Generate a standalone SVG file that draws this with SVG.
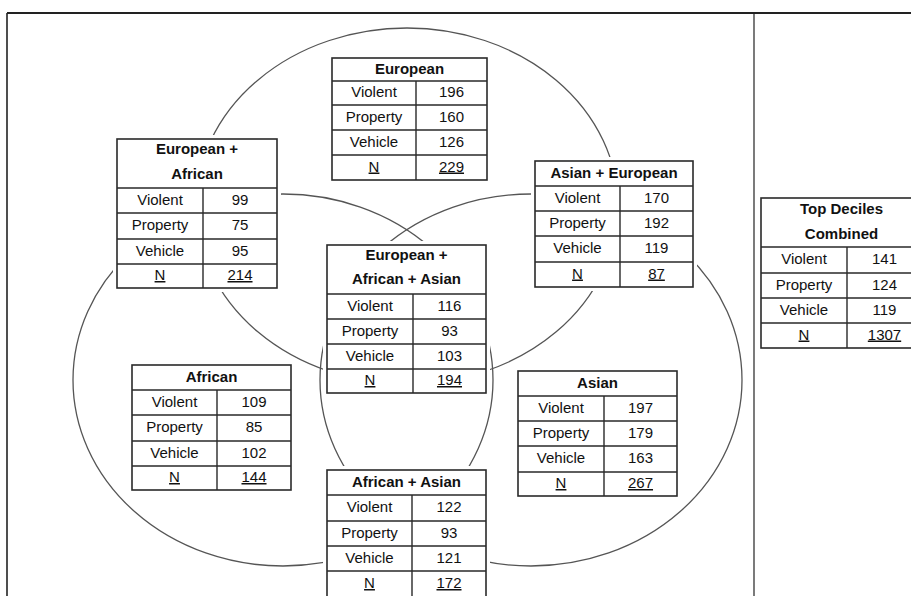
<svg xmlns="http://www.w3.org/2000/svg" width="911" height="596" viewBox="0 0 911 596">
<style>
.bg{fill:#fff}
.tb{fill:none;stroke:#2a2a2a;stroke-width:1.6}
.ln{stroke:#2a2a2a;stroke-width:1.4}
.t{font-family:"Liberation Sans",Arial,sans-serif;font-size:15px;fill:#111;text-anchor:middle}
.h{font-weight:bold}
.u{text-decoration:underline}
.c{fill:none;stroke:#555;stroke-width:1.3}
.fr{stroke:#222;fill:none}
</style>
<rect x="0" y="0" width="911" height="596" fill="#fff"/>
<g id="frame">
<line class="fr" x1="7" y1="13" x2="911" y2="13" stroke-width="2"/>
<line class="fr" x1="7" y1="13" x2="7" y2="596" stroke-width="1.6"/>
<line class="fr" x1="754" y1="13" x2="754" y2="596" stroke-width="1.2" stroke="#444"/>
</g>
<g id="connectors">
<ellipse class="c" cx="407" cy="206" rx="211" ry="178"/>
<ellipse class="c" cx="283" cy="380" rx="210" ry="186"/>
<ellipse class="c" cx="531" cy="380" rx="211" ry="186"/>
</g>
<g id="european">
<rect class="bg" x="328" y="54" width="163" height="130"/>
<rect class="tb" x="332" y="58" width="155" height="122"/>
<path class="ln" d="M332 81H487M332 105H487M332 130H487M332 155H487M416 81V180"/>
<text class="t h" x="409.5" y="73.5">European</text>
<text class="t" x="374" y="97">Violent</text><text class="t" x="451.5" y="97">196</text>
<text class="t" x="374" y="121.5">Property</text><text class="t" x="451.5" y="121.5">160</text>
<text class="t" x="374" y="146.5">Vehicle</text><text class="t" x="451.5" y="146.5">126</text>
<text class="t u" x="374" y="171.5">N</text><text class="t u" x="451.5" y="171.5">229</text>
</g>
<g id="european-african">
<rect class="bg" x="113" y="135" width="168" height="157"/>
<rect class="tb" x="117" y="139" width="160" height="149"/>
<path class="ln" d="M117 188H277M117 213H277M117 239H277M117 264H277M203 188V288"/>
<text class="t h" x="197" y="153.5">European +</text>
<text class="t h" x="197" y="178.5">African</text>
<text class="t" x="160" y="204.5">Violent</text><text class="t" x="240" y="204.5">99</text>
<text class="t" x="160" y="230">Property</text><text class="t" x="240" y="230">75</text>
<text class="t" x="160" y="255.5">Vehicle</text><text class="t" x="240" y="255.5">95</text>
<text class="t u" x="160" y="280">N</text><text class="t u" x="240" y="280">214</text>
</g>
<g id="asian-european">
<rect class="bg" x="531" y="157" width="166" height="134"/>
<rect class="tb" x="535" y="161" width="158" height="126"/>
<path class="ln" d="M535 186H693M535 211H693M535 236H693M535 262H693M620 186V287"/>
<text class="t h" x="614" y="177.5">Asian + European</text>
<text class="t" x="577.5" y="202.5">Violent</text><text class="t" x="656.5" y="202.5">170</text>
<text class="t" x="577.5" y="227.5">Property</text><text class="t" x="656.5" y="227.5">192</text>
<text class="t" x="577.5" y="253">Vehicle</text><text class="t" x="656.5" y="253">119</text>
<text class="t u" x="577.5" y="278.5">N</text><text class="t u" x="656.5" y="278.5">87</text>
</g>
<g id="european-african-asian">
<rect class="bg" x="323" y="241" width="167" height="156"/>
<rect class="tb" x="327" y="245" width="159" height="148"/>
<path class="ln" d="M327 294H486M327 319H486M327 344H486M327 369H486M413 294V393"/>
<text class="t h" x="406.5" y="260">European +</text>
<text class="t h" x="406.5" y="284">African + Asian</text>
<text class="t" x="370" y="310.5">Violent</text><text class="t" x="449.5" y="310.5">116</text>
<text class="t" x="370" y="335.5">Property</text><text class="t" x="449.5" y="335.5">93</text>
<text class="t" x="370" y="360.5">Vehicle</text><text class="t" x="449.5" y="360.5">103</text>
<text class="t u" x="370" y="385">N</text><text class="t u" x="449.5" y="385">194</text>
</g>
<g id="african">
<rect class="bg" x="128" y="361" width="167" height="133"/>
<rect class="tb" x="132" y="365" width="159" height="125"/>
<path class="ln" d="M132 390H291M132 415H291M132 441H291M132 466H291M217 390V490"/>
<text class="t h" x="211.5" y="381.5">African</text>
<text class="t" x="174.5" y="406.5">Violent</text><text class="t" x="254" y="406.5">109</text>
<text class="t" x="174.5" y="432">Property</text><text class="t" x="254" y="432">85</text>
<text class="t" x="174.5" y="457.5">Vehicle</text><text class="t" x="254" y="457.5">102</text>
<text class="t u" x="174.5" y="482">N</text><text class="t u" x="254" y="482">144</text>
</g>
<g id="asian">
<rect class="bg" x="514" y="367" width="167" height="133"/>
<rect class="tb" x="518" y="371" width="159" height="125"/>
<path class="ln" d="M518 396H677M518 421H677M518 446H677M518 472H677M604 396V496"/>
<text class="t h" x="597.5" y="387.5">Asian</text>
<text class="t" x="561" y="412.5">Violent</text><text class="t" x="640.5" y="412.5">197</text>
<text class="t" x="561" y="437.5">Property</text><text class="t" x="640.5" y="437.5">179</text>
<text class="t" x="561" y="463">Vehicle</text><text class="t" x="640.5" y="463">163</text>
<text class="t u" x="561" y="488">N</text><text class="t u" x="640.5" y="488">267</text>
</g>
<g id="african-asian">
<rect class="bg" x="323" y="466" width="167" height="136"/>
<rect class="tb" x="327" y="470" width="159" height="128"/>
<path class="ln" d="M327 495H486M327 521H486M327 546H486M327 571H486M412 495V598"/>
<text class="t h" x="406.5" y="486.5">African + Asian</text>
<text class="t" x="369.5" y="512">Violent</text><text class="t" x="449" y="512">122</text>
<text class="t" x="369.5" y="537.5">Property</text><text class="t" x="449" y="537.5">93</text>
<text class="t" x="369.5" y="562.5">Vehicle</text><text class="t" x="449" y="562.5">121</text>
<text class="t u" x="369.5" y="588">N</text><text class="t u" x="449" y="588">172</text>
</g>
<g id="top-deciles-combined">
<rect class="bg" x="757" y="194" width="168" height="158"/>
<rect class="tb" x="761" y="198" width="160" height="150"/>
<path class="ln" d="M761 247H921M761 273H921M761 298H921M761 323H921M847 247V348"/>
<text class="t h" x="841.5" y="213.5">Top Deciles</text>
<text class="t h" x="841.5" y="238.5">Combined</text>
<text class="t" x="804" y="264">Violent</text><text class="t" x="884.5" y="264">141</text>
<text class="t" x="804" y="289.5">Property</text><text class="t" x="884.5" y="289.5">124</text>
<text class="t" x="804" y="314.5">Vehicle</text><text class="t" x="884.5" y="314.5">119</text>
<text class="t u" x="804" y="339.5">N</text><text class="t u" x="884.5" y="339.5">1307</text>
</g>
</svg>
